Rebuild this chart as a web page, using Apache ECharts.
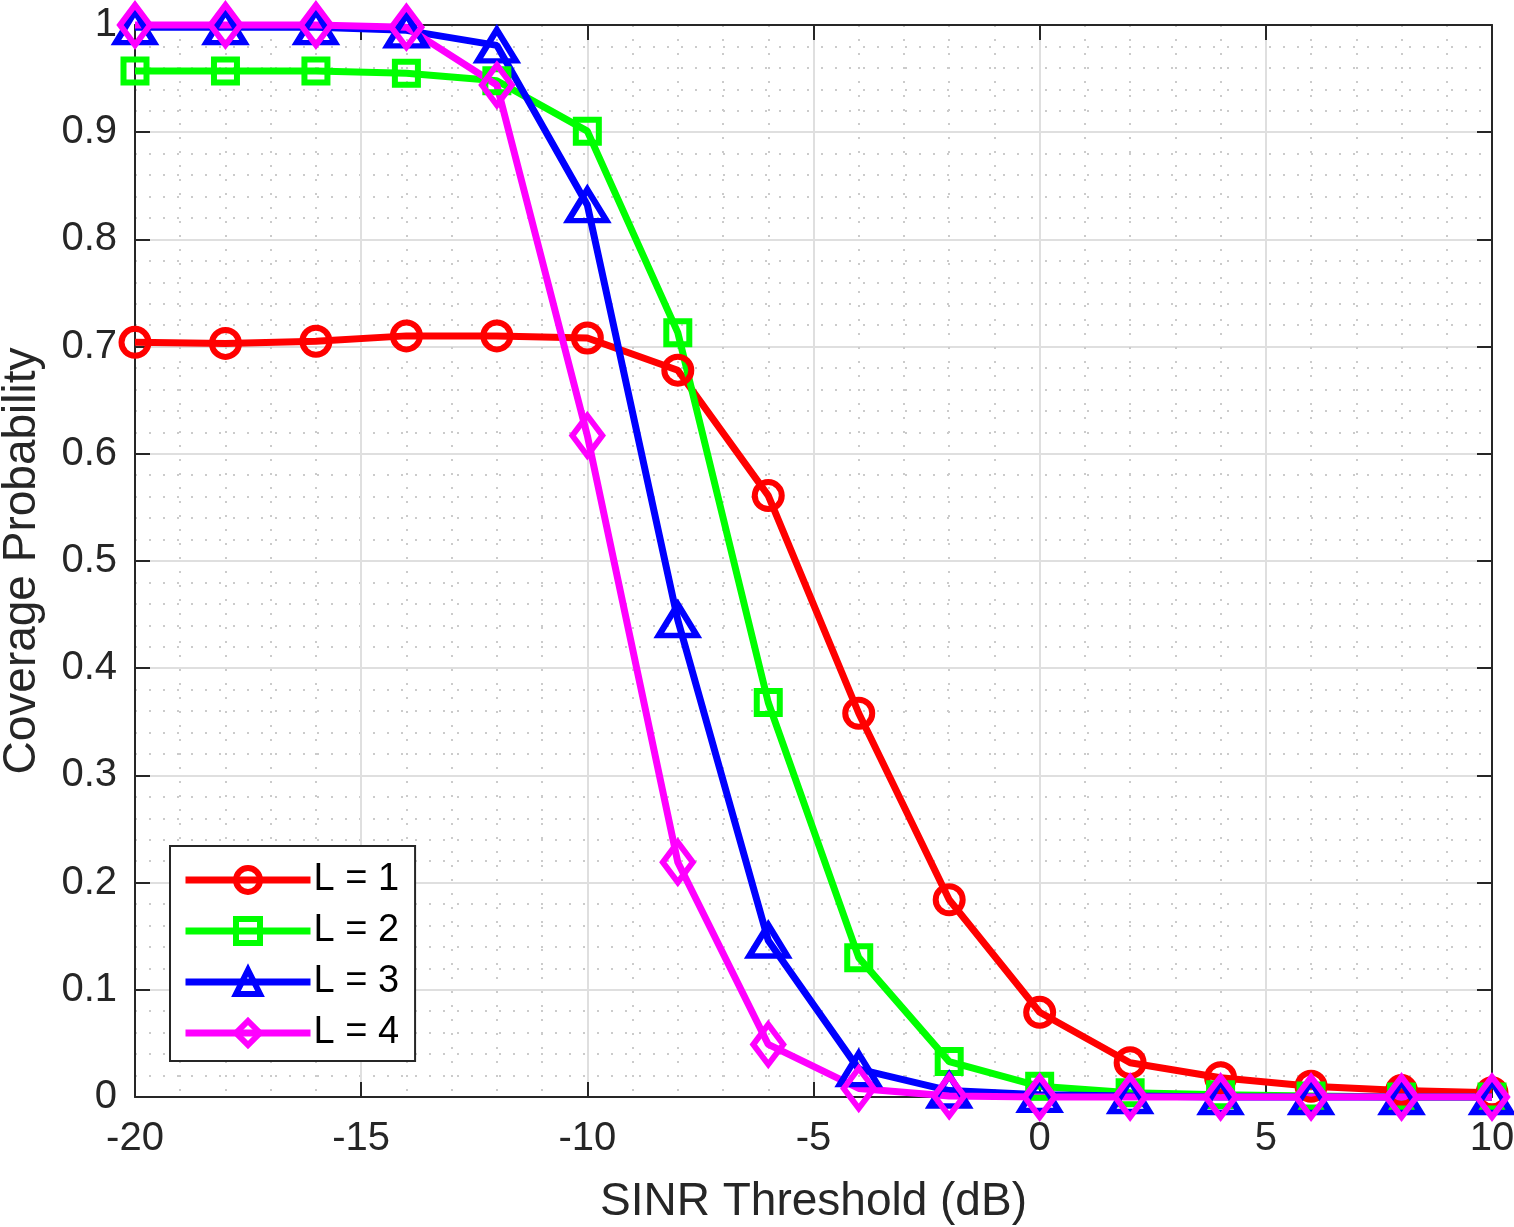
<!DOCTYPE html>
<html>
<head>
<meta charset="utf-8">
<title>Coverage Probability</title>
<script src="https://cdn.jsdelivr.net/npm/echarts@6/dist/echarts.min.js"></script>
<style>
	html, body { margin: 0; padding: 0; background: #fff; }
	#chart { width: 1514px; height: 1227px; }
</style>
</head>
<body>
<div id="chart"></div>
<script>
// SINR threshold (dB)
var sinr = [-20, -18, -16, -14, -12, -10, -8, -6, -4, -2, 0, 2, 4, 6, 8, 10];
// coverage probability for each L
var covL1 = [0.704, 0.703, 0.705, 0.710, 0.710, 0.708, 0.678, 0.561, 0.358, 0.184, 0.079, 0.032, 0.018, 0.010, 0.006, 0.004];
var covL2 = [0.957, 0.957, 0.957, 0.955, 0.948, 0.901, 0.713, 0.368, 0.130, 0.033, 0.010, 0.004, 0.002, 0.001, 0, 0];
var covL3 = [0.998, 0.998, 0.998, 0.995, 0.981, 0.832, 0.445, 0.146, 0.026, 0.006, 0.002, 0.001, 0, 0, 0, 0];
var covL4 = [1.000, 1.000, 1.000, 0.998, 0.944, 0.617, 0.219, 0.049, 0.008, 0.001, 0, 0, 0, 0, 0, 0];
var seriesNames = ['L = 1', 'L = 2', 'L = 3', 'L = 4'];

var font = "'Liberation Sans', Arial, Helvetica, sans-serif";
var textColor = '#262626';

function pairs(ys) {
	var out = [];
	for(var i = 0; i < sinr.length; i++) {
		out.push([sinr[i], ys[i]]);
	}
	return out;
}

function makeSeries(name, ys, color, symbol, size) {
	return {
		name: name,
		type: 'line',
		xAxisIndex: 0,
		yAxisIndex: 0,
		data: pairs(ys),
		symbol: symbol,
		symbolSize: size,
		clip: false,
		lineStyle: { color: color, width: 7 },
		itemStyle: { color: 'rgba(255,255,255,0)', borderColor: color, borderWidth: 6 },
		emphasis: { disabled: true },
		animation: false
	};
}

var Chart = echarts.init(document.getElementById('chart'));

var option = {
	backgroundColor: '#fff',
	textStyle: { fontFamily: font, color: textColor },
	grid: { left: 135, right: 22, top: 25, bottom: 130, containLabel: false, outerBoundsMode: 'none' },
	legend: {
		orient: 'vertical',
		left: 170,
		top: 846,
		padding: [14, 16, 8, 12],
		itemGap: 11,
		itemWidth: 125,
		itemHeight: 30,
		backgroundColor: '#fff',
		borderColor: textColor,
		borderWidth: 2,
		borderRadius: 0,
		lineStyle: { width: 7 },
		itemStyle: { borderWidth: 6 },
		textStyle: { fontFamily: font, fontSize: 38, color: '#000', lineHeight: 40, padding: [0, 0, 0, -2] },
		data: seriesNames
	},
	xAxis: [{
		type: 'value',
		min: -20,
		max: 10,
		interval: 5,
		name: 'SINR Threshold (dB)',
		nameLocation: 'middle',
		nameGap: 82,
		nameTextStyle: { fontFamily: font, fontSize: 46, color: textColor },
		axisLine: { show: true, onZero: false, lineStyle: { color: textColor, width: 2 } },
		axisTick: { show: true, inside: true, length: 15, lineStyle: { color: textColor, width: 2 } },
		axisLabel: { fontFamily: font, fontSize: 40, color: textColor, margin: 22 },
		splitLine: { show: true, lineStyle: { color: '#dfdfdf', width: 2 } },
		minorTick: { show: false, splitNumber: 5 },
		minorSplitLine: { show: true, lineStyle: { color: '#cbcbcb', width: 2, type: [2, 12] } }
	}, {
		type: 'value',
		position: 'top',
		min: -20,
		max: 10,
		interval: 5,
		axisLine: { show: true, onZero: false, lineStyle: { color: textColor, width: 2 } },
		axisTick: { show: true, inside: true, length: 15, lineStyle: { color: textColor, width: 2 } },
		axisLabel: { show: false },
		splitLine: { show: false }
	}],
	yAxis: [{
		type: 'value',
		min: 0,
		max: 1,
		interval: 0.1,
		name: 'Coverage Probability',
		nameLocation: 'middle',
		nameGap: 90,
		nameTextStyle: { fontFamily: font, fontSize: 46, color: textColor },
		axisLine: { show: true, onZero: false, lineStyle: { color: textColor, width: 2 } },
		axisTick: { show: true, inside: true, length: 15, lineStyle: { color: textColor, width: 2 } },
		axisLabel: { fontFamily: font, fontSize: 40, color: textColor, margin: 18 },
		splitLine: { show: true, lineStyle: { color: '#dfdfdf', width: 2 } },
		minorTick: { show: false, splitNumber: 5 },
		minorSplitLine: { show: true, lineStyle: { color: '#cbcbcb', width: 2, type: [2, 12] } }
	}, {
		type: 'value',
		position: 'right',
		min: 0,
		max: 1,
		interval: 0.1,
		axisLine: { show: true, onZero: false, lineStyle: { color: textColor, width: 2 } },
		axisTick: { show: true, inside: true, length: 15, lineStyle: { color: textColor, width: 2 } },
		axisLabel: { show: false },
		splitLine: { show: false }
	}],
	series: [
		makeSeries(seriesNames[0], covL1, '#ff0000', 'circle', 27),
		makeSeries(seriesNames[1], covL2, '#00ff00', 'rect', 23),
		makeSeries(seriesNames[2], covL3, '#0000ff', 'triangle', [38, 31]),
		makeSeries(seriesNames[3], covL4, '#ff00ff', 'diamond', [30, 40])
	]
};
Chart.setOption(option);
</script>
</body>
</html>
